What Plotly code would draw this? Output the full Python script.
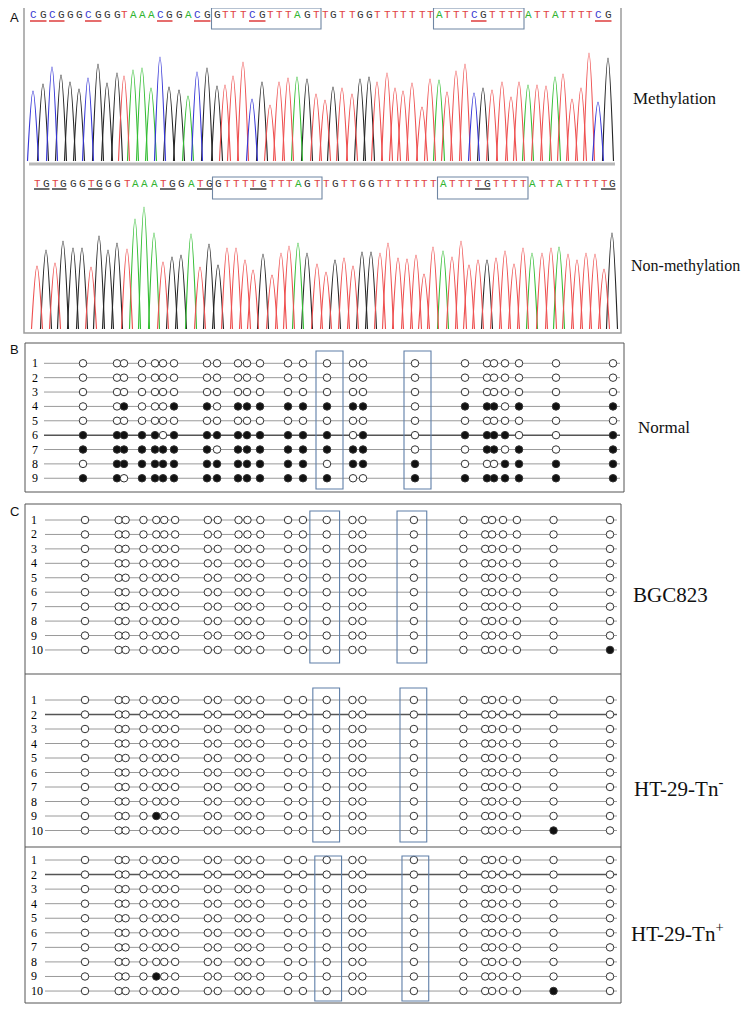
import plotly.graph_objects as go

W, H = 750, 1011          # browser window
OX, OY = 8, 8             # default page margin around the plot div
FW, FH = W - OX, H - OY   # figure size so that it fills the window exactly

# ---------------- Panel A : sequencing reads ----------------
meth_seq = "CGCGGGCGGGTAAACGGACGGTTTCGTTTAGTTGTTGGTTTTTTTATTTCGTTTTATTATTTTCG"
meth_pos = [33, 43, 52, 61, 70, 79, 88, 98, 107, 117,
            124, 133, 142, 151, 160, 169, 179, 188, 197, 207,
            217, 225, 233, 243, 252, 262, 270, 279, 288, 297,
            307, 316, 325, 333, 342, 352, 360, 369, 377, 387,
            395, 403, 412, 422, 430, 439, 447, 456, 465, 474,
            483, 492, 502, 511, 519, 528, 537, 546, 555, 563,
            572, 581, 589, 598, 608]
meth_height = [70, 77, 94, 86, 79, 72, 83, 97, 78, 88,
               85, 91, 93, 73, 104, 74, 71, 65, 89, 93,
               75, 76, 85, 99, 62, 79, 56, 79, 83, 84,
               82, 67, 61, 74, 73, 67, 82, 84, 79, 88,
               73, 70, 78, 54, 82, 81, 69, 90, 97, 68,
               73, 71, 79, 64, 79, 76, 76, 75, 84, 87,
               62, 73, 108, 59, 103]

unmeth_seq = "TGTGGGTGGGTAAATGGATGGTTTTGTTTAGTTGTTGGTTTTTTTATTTTGTTTTATTATTTTTG"
unmeth_pos = [37, 46, 55, 63, 73, 82, 91, 99, 108, 117,
              127, 135, 144, 154, 163, 172, 181, 191, 200, 209,
              218, 227, 236, 245, 253, 263, 272, 281, 289, 298,
              307, 317, 326, 335, 344, 353, 362, 371, 380, 388,
              398, 407, 416, 424, 433, 443, 452, 461, 469, 478,
              487, 496, 505, 514, 523, 532, 542, 551, 559, 568,
              577, 586, 595, 604, 612]
unmeth_height = [63, 79, 66, 88, 81, 81, 62, 93, 79, 86,
                 80, 110, 122, 96, 67, 72, 74, 95, 62, 85,
                 64, 81, 81, 69, 59, 75, 54, 76, 83, 86,
                 76, 65, 57, 69, 71, 63, 77, 77, 76, 86,
                 71, 70, 74, 55, 82, 78, 72, 88, 64, 69,
                 69, 71, 78, 65, 81, 76, 76, 81, 82, 75,
                 69, 76, 75, 60, 96]

boxed_runs = [(20, 31), (45, 54)]          # letter index ranges framed in panel A

# ---------------- Panels B / C : CpG methylation maps ----------------
cpg_positions = [83, 117, 124, 142, 155, 163, 174, 207, 217, 238, 247, 260, 288,
                 303, 327, 353, 363, 415, 465, 487, 494, 505, 519, 556, 613]
boxed_cpgs = [14, 17]

normal = [
    "0000000000000000000000000",
    "0000000000000000000000000",
    "0000000000000000000000000",
    "0010001101111111101110111",
    "0000000000000000000000000",
    "1111101111111110101111001",
    "1111111101111111100110101",
    "0111111111111101110001111",
    "1101111111111110011111111",
]
bgc823 = ["0000000000000000000000000"] * 9 + ["0000000000000000000000001"]
ht29_tn_neg = ["0000000000000000000000000"] * 8 + ["0000100000000000000000000",
                                                  "0000000000000000000000010"]
ht29_tn_pos = ["0000000000000000000000000"] * 8 + ["0000100000000000000000000",
                                                  "0000000000000000000000010"]


# ---------------- helpers (layout only: window pixel -> figure paper) ----------------
def px_x(x):
    return (x - OX) / FW


def px_y(y):
    return 1 - (y - OY) / FH


def ydom(top, bottom):
    return [px_y(bottom), px_y(top)]


channel_color = {"A": "#33bd33", "C": "#3535d6", "G": "#262626", "T": "#ee5050"}
letter_color = {"A": "#2fb42f", "C": "#3a3ad2", "G": "#333333", "T": "#e04444"}

fig = go.Figure()
shapes = []
annotations = []

CHROM = [
    # seq, pos, height, yaxis, axis key, baseline px, top px, letter px, underline px, box px, ul colour
    (meth_seq, meth_pos, meth_height, "y", "yaxis", 161, 0, 15, 21, (8, 29), "#e04848"),
    (unmeth_seq, unmeth_pos, unmeth_height, "y2", "yaxis2", 329, 166, 184, 189, (177, 199), "#4a4a4a"),
]
cpg_idx = [i for i in range(len(meth_seq) - 1) if meth_seq[i:i + 2] == "CG"]

axes = {}
for seq, pos, hgt, yref, ykey, base_px, top_px, let_px, ul_px, box_px, ulc in CHROM:
    axes[ykey] = dict(domain=ydom(max(top_px, OY), base_px), range=[0, base_px - max(top_px, OY)])
    half = 5.5
    for b in "GATC":
        xs, ys = [], []
        for s, p, h in zip(seq, pos, hgt):
            if s == b:
                xs += [p - half, p, p + half, None]
                ys += [0, h, 0, None]
        fig.add_trace(go.Scatter(
            x=xs, y=ys, mode="lines", xaxis="x", yaxis=yref,
            line=dict(color=channel_color[b], width=1.15, shape="spline", smoothing=1.0),
            hoverinfo="skip", showlegend=False))
    # base letters (placed in paper space so they may sit above the axis)
    for s, p in zip(seq, pos):
        annotations.append(dict(text=s, x=p, y=px_y(let_px), xref="x", yref="paper",
                                xanchor="center", yanchor="middle", showarrow=False,
                                font=dict(family="Liberation Mono", size=11, color=letter_color[s])))
    # underlines of CpG (or TpG) sites
    for i in cpg_idx:
        shapes.append(dict(type="line", xref="x", yref="paper",
                           x0=pos[i] - 3, x1=pos[i + 1] + 3.5, y0=px_y(ul_px), y1=px_y(ul_px),
                           line=dict(color=ulc, width=1.6)))
    for a, b in boxed_runs:
        shapes.append(dict(type="rect", xref="x", yref="paper",
                           x0=pos[a] - 5.5, x1=pos[b] + 5, y0=px_y(box_px[1]), y1=px_y(box_px[0]),
                           line=dict(color="#6f86a3", width=1.1)))

# panel A frame and viewer bar
shapes.append(dict(type="rect", xref="paper", yref="paper", x0=px_x(24), x1=px_x(621),
                   y0=px_y(333), y1=px_y(4), line=dict(color="#9c9c9c", width=1.5)))
shapes.append(dict(type="line", xref="paper", yref="paper", x0=px_x(29), x1=px_x(615),
                   y0=px_y(164), y1=px_y(164), line=dict(color="#b8b8b8", width=3)))

# ---------------- Methylation maps ----------------
c_scale = (610 - 85) / (613 - 83)


def c_units(px):
    return 83 + (px - 85) / c_scale


GROUPS = [
    # matrix, xaxis, yaxis, ykey, top px, bottom px, row1 px, pitch, dark rows, box y px, box pads
    (normal, "x2", "y3", "yaxis3", 343, 492, 363.3, 14.37, [6], (351, 489), (-11, 16)),
    (bgc823, "x3", "y4", "yaxis4", 505, 674, 520.0, 14.44, [], (511, 663), (-17, 13)),
    (ht29_tn_neg, "x3", "y5", "yaxis5", 674, 847, 700.0, 14.50, [2], (688, 842), (-14, 13)),
    (ht29_tn_pos, "x3", "y6", "yaxis6", 847, 1003, 860.0, 14.56, [2], (856, 1001), (-12, 15)),
]

for mat, xr, yr, ykey, top, bot, r1, pitch, dark, boxy, pads in GROUPS:
    axes[ykey] = dict(domain=ydom(top, bot),
                      range=[1 + (bot - r1) / pitch, 1 + (top - r1) / pitch])
    line_x = [44, 620] if xr == "x2" else [c_units(45), c_units(617)]
    lab_x = 30 if xr == "x2" else c_units(29)
    rows = list(range(1, len(mat) + 1))
    for r in rows:
        dk = r in dark
        fig.add_trace(go.Scatter(x=line_x, y=[r, r], mode="lines", xaxis=xr, yaxis=yr,
                                 line=dict(color="#555555" if dk else "#9a9a9a", width=1.5 if dk else 1),
                                 hoverinfo="skip", showlegend=False))
    xs, ys, fill = [], [], []
    for r, row in zip(rows, mat):
        for p, v in zip(cpg_positions, row):
            xs.append(p)
            ys.append(r)
            fill.append("#111111" if v == "1" else "#ffffff")
    fig.add_trace(go.Scatter(x=xs, y=ys, mode="markers", xaxis=xr, yaxis=yr,
                             marker=dict(size=7.5, color=fill, line=dict(color="#333333", width=1)),
                             hoverinfo="skip", showlegend=False))
    for r in rows:
        annotations.append(dict(text=str(r), x=lab_x, y=r, xref=xr, yref=yr,
                                xanchor="left", yanchor="middle", showarrow=False,
                                font=dict(family="Liberation Serif", size=12, color="#000000")))
    for ci in boxed_cpgs:
        shapes.append(dict(type="rect", xref=xr, yref="paper",
                           x0=cpg_positions[ci] + pads[0], x1=cpg_positions[ci] + pads[1],
                           y0=px_y(boxy[1]), y1=px_y(boxy[0]),
                           line=dict(color="#5f7fa8", width=1.1)))

# frames of B and C, separators in C
shapes.append(dict(type="rect", xref="paper", yref="paper", x0=px_x(25), x1=px_x(624),
                   y0=px_y(492), y1=px_y(343), line=dict(color="#555555", width=1)))
shapes.append(dict(type="rect", xref="paper", yref="paper", x0=px_x(25), x1=px_x(621),
                   y0=px_y(1003), y1=px_y(504), line=dict(color="#555555", width=1)))
for yy in (674, 847):
    shapes.append(dict(type="line", xref="paper", yref="paper", x0=px_x(25), x1=px_x(621),
                       y0=px_y(yy), y1=px_y(yy), line=dict(color="#555555", width=1.2)))

# text labels
LABELS = [
    ("A", 14, 17, 13, "Liberation Sans", "center"),
    ("B", 14, 350, 13, "Liberation Sans", "center"),
    ("C", 14, 511, 13, "Liberation Sans", "center"),
    ("Methylation", 631, 99, 17, "Liberation Serif", "left"),
    ("Non-methylation", 629, 266, 16, "Liberation Serif", "left"),
    ("Normal", 636, 427, 17, "Liberation Serif", "left"),
    ("BGC823", 631, 595, 21, "Liberation Serif", "left"),
    ("HT-29-Tn<sup>-</sup>", 632, 787, 21, "Liberation Serif", "left"),
    ("HT-29-Tn<sup>+</sup>", 629, 932, 21, "Liberation Serif", "left"),
]
for txt, x, y, size, fam, anc in LABELS:
    annotations.append(dict(text=txt, x=px_x(x), y=px_y(y), xref="paper", yref="paper",
                            xanchor=anc, yanchor="middle", showarrow=False,
                            font=dict(family=fam, size=size, color="#111111")))

hidden = dict(visible=False, showgrid=False, zeroline=False, fixedrange=True)
layout = dict(
    width=FW, height=FH, margin=dict(l=0, r=0, t=0, b=0, pad=0),
    paper_bgcolor="white", plot_bgcolor="rgba(0,0,0,0)", showlegend=False,
    xaxis=dict(domain=[0, 1], range=[OX, W], **hidden),
    xaxis2=dict(domain=[0, 1], range=[OX, W], **hidden),
    xaxis3=dict(domain=[0, 1], range=[c_units(OX), c_units(W)], **hidden),
    shapes=shapes, annotations=annotations,
)
for k, v in axes.items():
    d = dict(hidden)
    d.update(v)
    d["anchor"] = "x" if k in ("yaxis", "yaxis2") else ("x2" if k == "yaxis3" else "x3")
    layout[k] = d
fig.update_layout(**layout)
fig.write_html("out.html")
